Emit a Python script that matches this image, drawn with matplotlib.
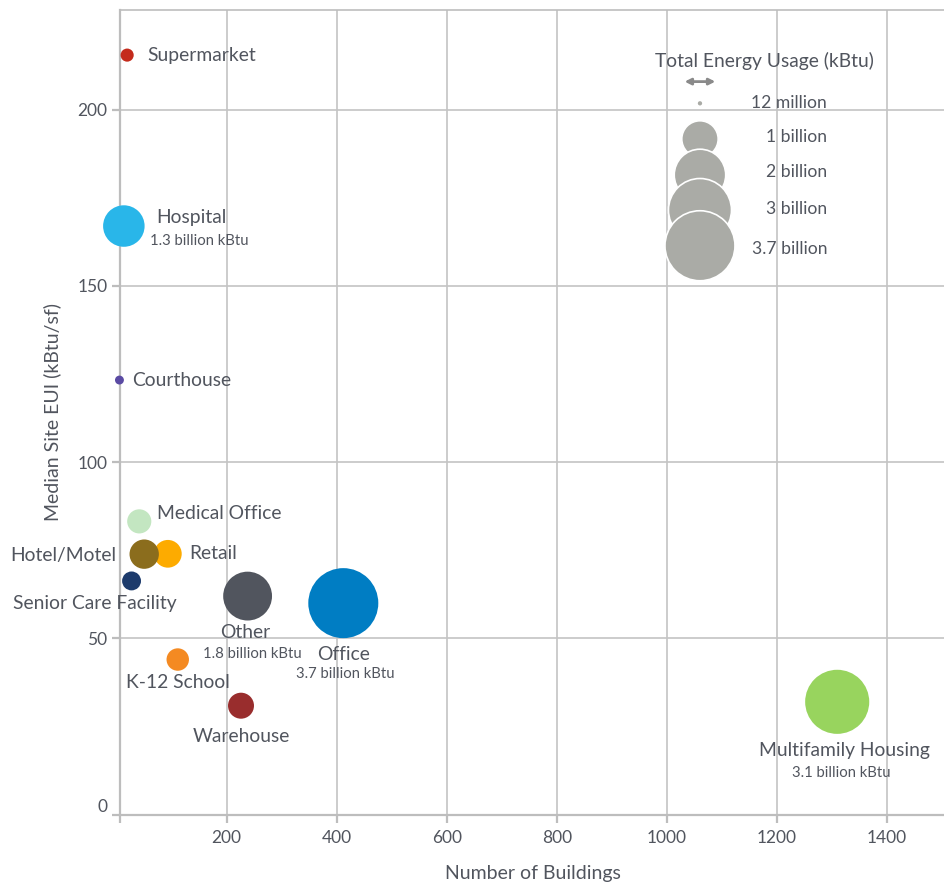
import numpy as np
import matplotlib.pyplot as plt

plt.rcParams['font.family'] = ['Lato', 'DejaVu Sans']

# building types: number of buildings, median site EUI, total energy (billion kBtu)
names = ["Supermarket", "Hospital", "Courthouse", "Medical Office", "Retail",
         "Hotel/Motel", "Senior Care Facility", "Other", "Office", "K-12 School",
         "Warehouse", "Multifamily Housing"]
n_buildings = [19, 13, 5, 41, 93, 50, 27, 238, 412, 111, 226, 1310]
site_eui = [215.5, 167, 123.3, 83.2, 74, 73.9, 66.3, 62, 60, 44, 30.9, 32]
energy_bn = [0.13, 1.3, 0.06, 0.44, 0.58, 0.65, 0.27, 1.8, 3.7, 0.38, 0.51, 3.1]
colors = ["#c42b1c", "#29b6e9", "#5a4aa3", "#c3e6c1", "#fdab00", "#8b6d1d",
          "#1d3b6c", "#51555e", "#007dc3", "#f48a22", "#992d2d", "#98d45e"]
sub_labels = {"Hospital": "1.3 billion kBtu", "Other": "1.8 billion kBtu",
              "Office": "3.7 billion kBtu", "Multifamily Housing": "3.1 billion kBtu"}

legend_values = [0.012, 1, 2, 3, 3.7]
legend_labels = ["12 million", "1 billion", "2 billion", "3 billion", "3.7 billion"]

x_ticks = [200, 400, 600, 800, 1000, 1200, 1400]
y_ticks = [0, 50, 100, 150, 200]

TEXT = "#51555e"
GRID = "#c4c4c4"
K = 18.2  # radius in px per sqrt(billion kBtu)


def bubble_size(e):
    r = np.maximum(K * np.sqrt(np.asarray(e)), 3)
    return (2 * r * 0.72) ** 2


fig = plt.figure(figsize=(9.45, 8.82), dpi=100)
ax = fig.add_axes([120 / 945, 1 - 814.6 / 882, 825 / 945, 804.6 / 882])

ax.set_xlim(6, 1506)
ax.set_ylim(0, 228.3)
ax.set_xticks(x_ticks)
ax.set_xticks([6], minor=True)
ax.set_yticks(y_ticks)
ax.grid(True, color=GRID, linewidth=1.2)
ax.set_axisbelow(True)
ax.spines["right"].set_visible(False)
for s in ["left", "bottom", "top"]:
    ax.spines[s].set_color("#bdbdbd")
    ax.spines[s].set_linewidth(1.6)
ax.spines["top"].set_linewidth(1.2)
ax.tick_params(axis="both", which="both", length=6, width=1.6, color="#bdbdbd",
               labelsize=12.5, labelcolor=TEXT, pad=5)
ax.tick_params(axis="y", pad=3)
ax.set_xlabel("Number of Buildings", fontsize=14, color=TEXT, labelpad=14)
ax.set_ylabel("Median Site EUI (kBtu/sf)", fontsize=14, color=TEXT, labelpad=12)
ax.get_yticklabels()[0].set_va("bottom")

ax.scatter(n_buildings, site_eui, s=bubble_size(energy_bn), c=colors,
           edgecolors="none", zorder=3, clip_on=False)

# label offsets in pixels (dx, dy downwards, alignment)
offsets = {
    "Supermarket": (20, 0, "left"),
    "Hospital": (32, -9, "left"),
    "Courthouse": (13, 0, "left"),
    "Medical Office": (18, -8, "left"),
    "Retail": (21, 0, "left"),
    "Hotel/Motel": (-28, 1, "right"),
    "Senior Care Facility": (-37, 23, "center"),
    "Other": (-2, 36, "center"),
    "Office": (0, 51, "center"),
    "K-12 School": (0, 23, "center"),
    "Warehouse": (0, 31, "center"),
    "Multifamily Housing": (7, 49, "center"),
}
sub_offsets = {
    "Hospital": (26, 15, "left"),
    "Other": (5, 58, "center"),
    "Office": (2, 71, "center"),
    "Multifamily Housing": (4, 71, "center"),
}
for name, x, y in zip(names, n_buildings, site_eui):
    dx, dy, ha = offsets[name]
    ax.annotate(name, (x, y), xytext=(dx, -dy), textcoords="offset pixels",
                ha=ha, va="center", fontsize=13.9, color=TEXT, zorder=4,
                annotation_clip=False)
    if name in sub_labels:
        dx, dy, ha = sub_offsets[name]
        ax.annotate(sub_labels[name], (x, y), xytext=(dx, -dy),
                    textcoords="offset pixels", ha=ha, va="center",
                    fontsize=10.7, color=TEXT, zorder=4, annotation_clip=False)

# size legend
leg_y = [0.884, 0.8397, 0.795, 0.7514, 0.707]
lab_y = [0.884, 0.842, 0.799, 0.753, 0.703]
ax.scatter([0.703] * len(legend_values), leg_y, s=bubble_size(legend_values),
           c="#aaaba6", edgecolors="white", linewidths=1.2,
           transform=ax.transAxes, zorder=3)
for lab, y in zip(legend_labels, lab_y):
    ax.text(0.857, y, lab, transform=ax.transAxes, ha="right", va="center",
            fontsize=12.6, color=TEXT, zorder=4)
ax.text(0.781, 0.937, "Total Energy Usage (kBtu)", transform=ax.transAxes,
        ha="center", va="center", fontsize=13.9, color=TEXT)
ax.annotate("", xy=(0.725, 0.911), xytext=(0.681, 0.911), xycoords="axes fraction",
            arrowprops=dict(arrowstyle="<|-|>", color="#8a8a8a", lw=2,
                            mutation_scale=9))

fig.savefig("out.png", dpi=100)
